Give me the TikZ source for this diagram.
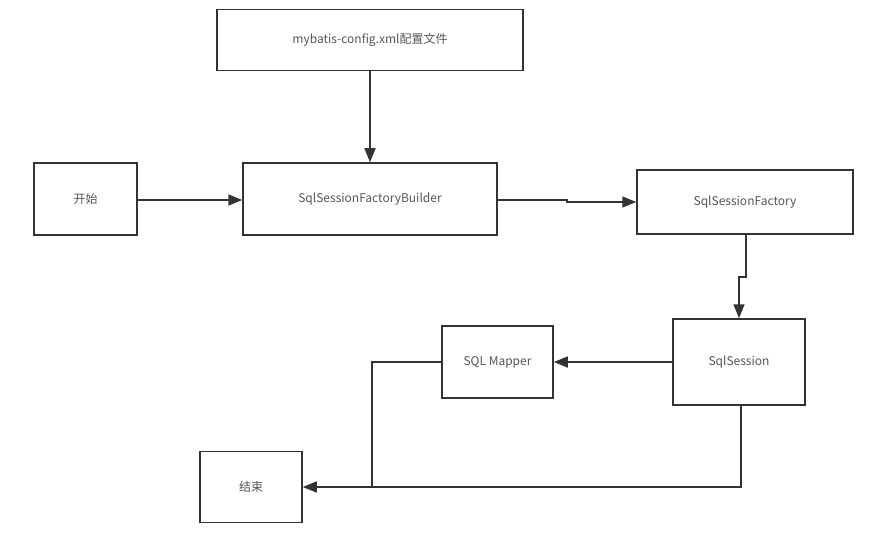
\documentclass[tikz,border=0pt]{standalone}
\usepackage{fontspec}
\setmainfont{Noto Sans CJK SC}
\usetikzlibrary{arrows.meta}
\definecolor{linec}{HTML}{333333}
\definecolor{textc}{HTML}{555555}
\begin{document}
\begin{tikzpicture}[x=1pt,y=-1pt,
  box/.style={draw=linec,line width=1.5pt,inner sep=0pt,text=textc,font=\fontsize{12}{14}\selectfont},
  conn/.style={draw=linec,line width=1.5pt},
  arr/.style={conn,-{Triangle[length=14pt,width=11pt]}}]
\useasboundingbox (0,0) rectangle (869,537);
\node[box,minimum width=306pt,minimum height=61pt] (cfg) at (370,40) {mybatis-config.xml配置文件};
\node[box,minimum width=103pt,minimum height=72pt] (start) at (85.5,199) {开始};
\node[box,minimum width=254pt,minimum height=72pt] (bld) at (370,199) {SqlSessionFactoryBuilder};
\node[box,minimum width=216pt,minimum height=64pt] (fac) at (745,202) {SqlSessionFactory};
\node[box,minimum width=132pt,minimum height=86pt] (ses) at (739,362) {SqlSession};
\node[box,minimum width=111pt,minimum height=72pt] (map) at (497.5,362) {SQL Mapper};
\node[box,minimum width=102pt,minimum height=71pt] (end) at (251,487) {结束};
\coordinate (j1) at (567,200);
\coordinate (j2) at (746,277);
\coordinate (j3) at (372,487);
\draw[arr] (cfg.south) -- (bld.north);
\draw[arr] (start.east |- 0,200) -- (bld.west |- 0,200);
\draw[arr] (bld.east |- j1) -- (j1) -- ++(0,2) -- (fac.west);
\draw[arr] (fac.south -| j2) -- (j2) -- ++(-7,0) -- (ses.north);
\draw[arr] (ses.west) -- (map.east);
\draw[conn] (map.west) -| (j3);
\draw[arr] (ses.south |- 0,405) ++(2,0) |- (end.east);
\end{tikzpicture}
\end{document}
